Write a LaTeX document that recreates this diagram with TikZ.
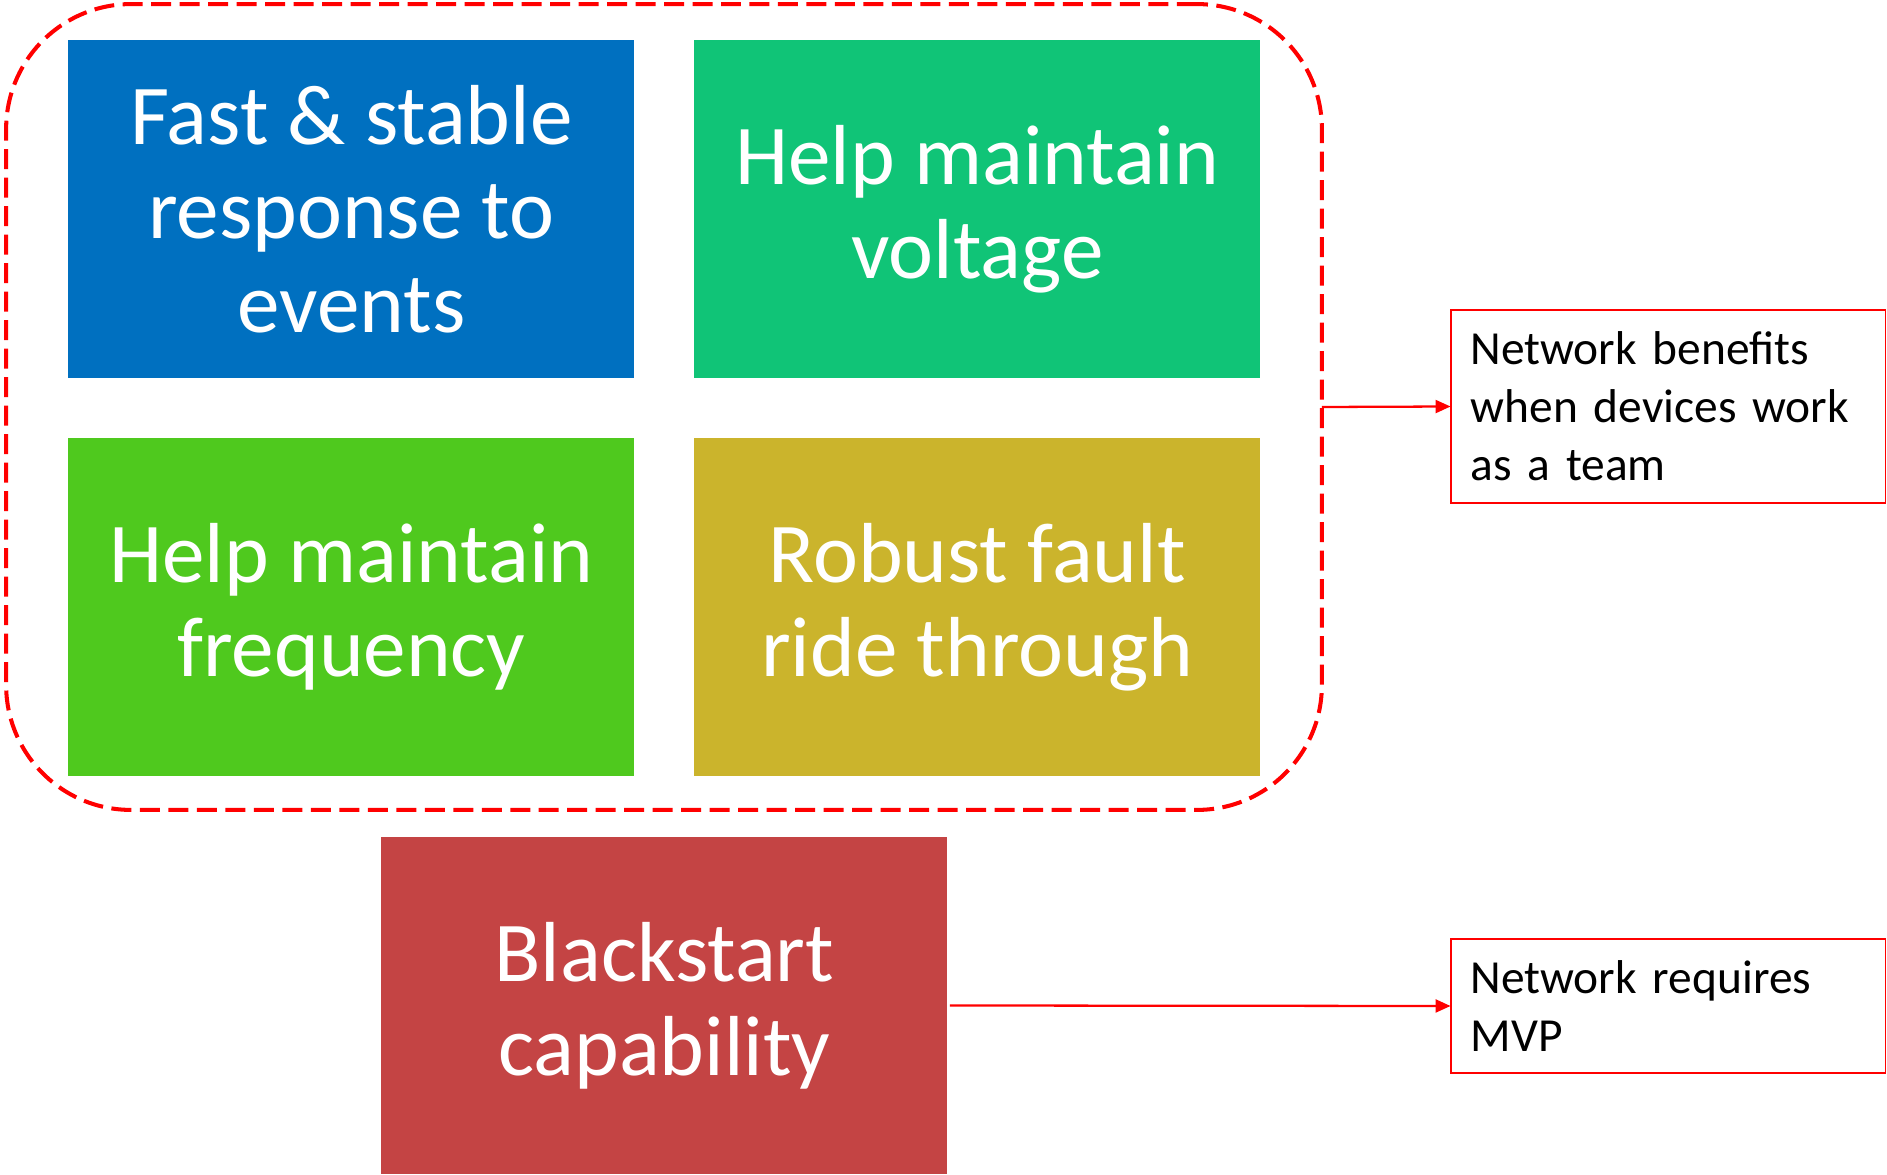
\documentclass[tikz,border=0pt]{standalone}
\usepackage{fontspec}
\setmainfont{Carlito}
\usetikzlibrary{arrows.meta}
\definecolor{cblue}{HTML}{0070C0}
\definecolor{cgreen}{HTML}{10C477}
\definecolor{clime}{HTML}{4FC91E}
\definecolor{cgold}{HTML}{CBB42C}
\definecolor{cred}{HTML}{C44444}
\definecolor{lred}{HTML}{FF0000}
\tikzset{
  bigbox/.style={fill=#1, text=white, inner sep=0pt, outer sep=0pt,
    minimum width=11.32cm, minimum height=6.76cm, align=center,
    font=\fontsize{48.5}{53.5}\selectfont},
  note/.style={draw=lred, line width=1.1pt, inner xsep=0.4cm, inner ysep=0pt, outer sep=0pt,
    text width=7.9cm, align=left,
    font=\fontsize{27}{33}\selectfont},
  groupbox/.style={draw=lred, line width=2.3pt, dash pattern=on 0.4cm off 0.17cm,
    rounded corners=2.5cm, minimum width=26.32cm, minimum height=16.12cm, inner sep=0pt, outer sep=0pt},
  conn/.style={draw=lred, line width=1.3pt, -{Triangle[length=0.3cm,width=0.26cm]}}
}
\begin{document}
\begin{tikzpicture}[x=0.02cm,y=-0.02cm]
\useasboundingbox (0,0) rectangle (1887,1175);
\node[groupbox] (grp) at (664,407) {};
\node[bigbox=cblue] (b1) at (351.4,208.8) {Fast \& stable\\response to\\events};
\node[bigbox=cgreen] (b2) at (977.2,208.8) {Help maintain\\voltage};
\node[bigbox=clime] (b3) at (351.4,607.1) {Help maintain\\frequency};
\node[bigbox=cgold] (b4) at (977.2,607.1) {Robust fault\\ride through};
\node[bigbox=cred] (b5) at (664.3,1005.5) {Blackstart\\capability};
\node[note, minimum height=3.86cm] (n1) at (1668,406.5) {Network benefits\\when devices work\\as a team};
\node[note, minimum height=2.68cm] (n2) at (1668,1006) {Network requires\\MVP};
\draw[conn] (grp.east) -- (n1.west);
\draw[conn] ([xshift=0.05cm]b5.east) -- (n2.west);
\end{tikzpicture}
\end{document}
